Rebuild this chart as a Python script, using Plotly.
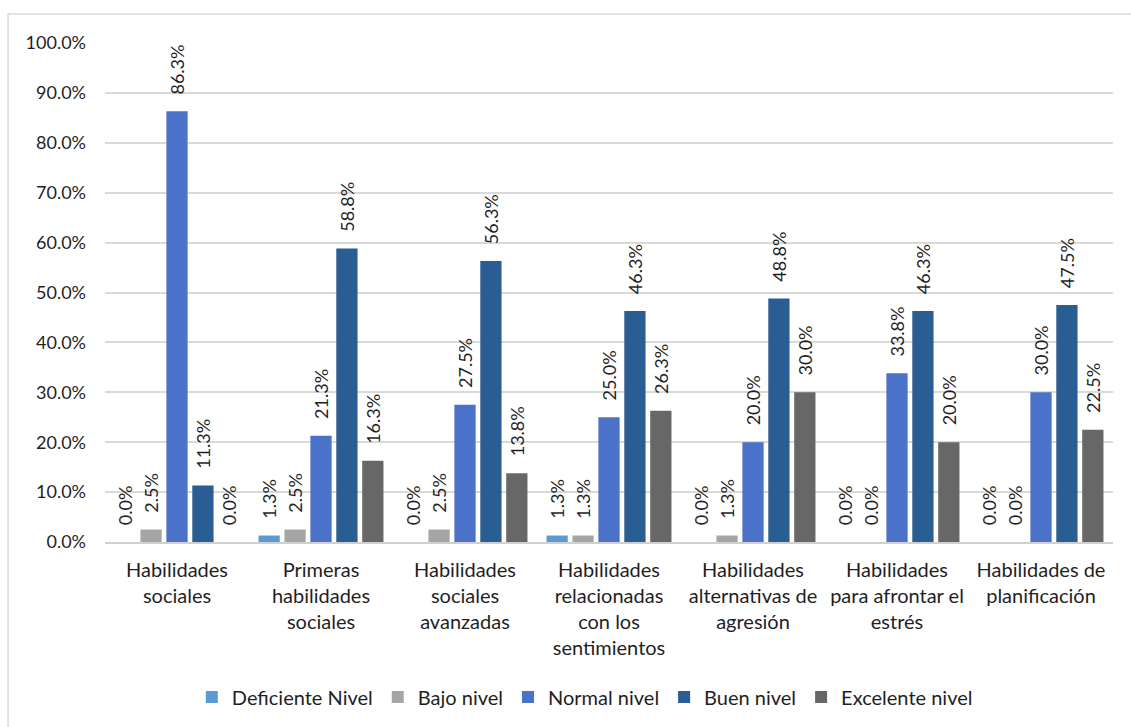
import plotly.graph_objects as go

categories = [
    "Habilidades<br>sociales",
    "Primeras<br>habilidades<br>sociales",
    "Habilidades<br>sociales<br>avanzadas",
    "Habilidades<br>relacionadas<br>con los<br>sentimientos",
    "Habilidades<br>alternativas de<br>agresión",
    "Habilidades<br>para afrontar el<br>estrés",
    "Habilidades de<br>planificación",
]

deficiente = [0.0, 1.3, 0.0, 1.3, 0.0, 0.0, 0.0]
bajo = [2.5, 2.5, 2.5, 1.3, 1.3, 0.0, 0.0]
normal = [86.3, 21.3, 27.5, 25.0, 20.0, 33.8, 30.0]
buen = [11.3, 58.8, 56.3, 46.3, 48.8, 46.3, 47.5]
excelente = [0.0, 16.3, 13.8, 26.3, 30.0, 20.0, 22.5]

series = [
    ("Deficiente Nivel", deficiente, "#5B9BD5"),
    ("Bajo nivel", bajo, "#A5A5A5"),
    ("Normal nivel", normal, "#4A72C8"),
    ("Buen nivel", buen, "#2A5D93"),
    ("Excelente nivel", excelente, "#676767"),
]

FONT = "Lato"
TEXT = "#1f1f1f"
PAD = "\u00a0" * 3  # gap between bar top and its rotated label

fig = go.Figure()
for name, vals, color in series:
    fig.add_trace(go.Bar(
        name=name,
        x=categories,
        y=[v / 100 for v in vals],
        marker=dict(color=color, line=dict(width=0)),
        text=[f"{PAD}{v:.1f}%" for v in vals],
        textposition="outside",
        textangle=-90,
        constraintext="none",
        textfont=dict(family=FONT, size=18, color=TEXT),
        cliponaxis=False,
    ))

fig.update_layout(
    width=1131,
    height=727,
    margin=dict(l=105, r=18, t=43, b=184),
    paper_bgcolor="white",
    plot_bgcolor="white",
    barmode="group",
    bargap=0.1,
    bargroupgap=0.18,
    font=dict(family=FONT, size=20, color=TEXT),
    xaxis=dict(
        showgrid=False,
        showline=True,
        linecolor="#D0D0D0",
        linewidth=1.5,
        ticks="",
        ticklabelstandoff=9,
        tickfont=dict(family=FONT, size=20, color=TEXT),
    ),
    yaxis=dict(
        range=[0, 1.0],
        dtick=0.1,
        tickformat=".1%",
        showgrid=True,
        gridcolor="#D9D9D9",
        gridwidth=1.5,
        zeroline=False,
        ticks="",
        ticklabelstandoff=18,
        tickfont=dict(family=FONT, size=18, color=TEXT),
    ),
    legend=dict(
        orientation="h",
        x=0.476,
        xanchor="center",
        y=-0.308,
        yanchor="middle",
        font=dict(family=FONT, size=20, color=TEXT),
        traceorder="normal",
    ),
    shapes=[
        dict(
            type="rect",
            xref="paper", yref="paper",
            x0=-0.0962, x1=1.2, y0=-0.6, y1=1.058,
            line=dict(color="#D9D9D9", width=1.5),
            fillcolor="rgba(0,0,0,0)",
            layer="below",
        )
    ],
)

fig.write_html("out.html")
